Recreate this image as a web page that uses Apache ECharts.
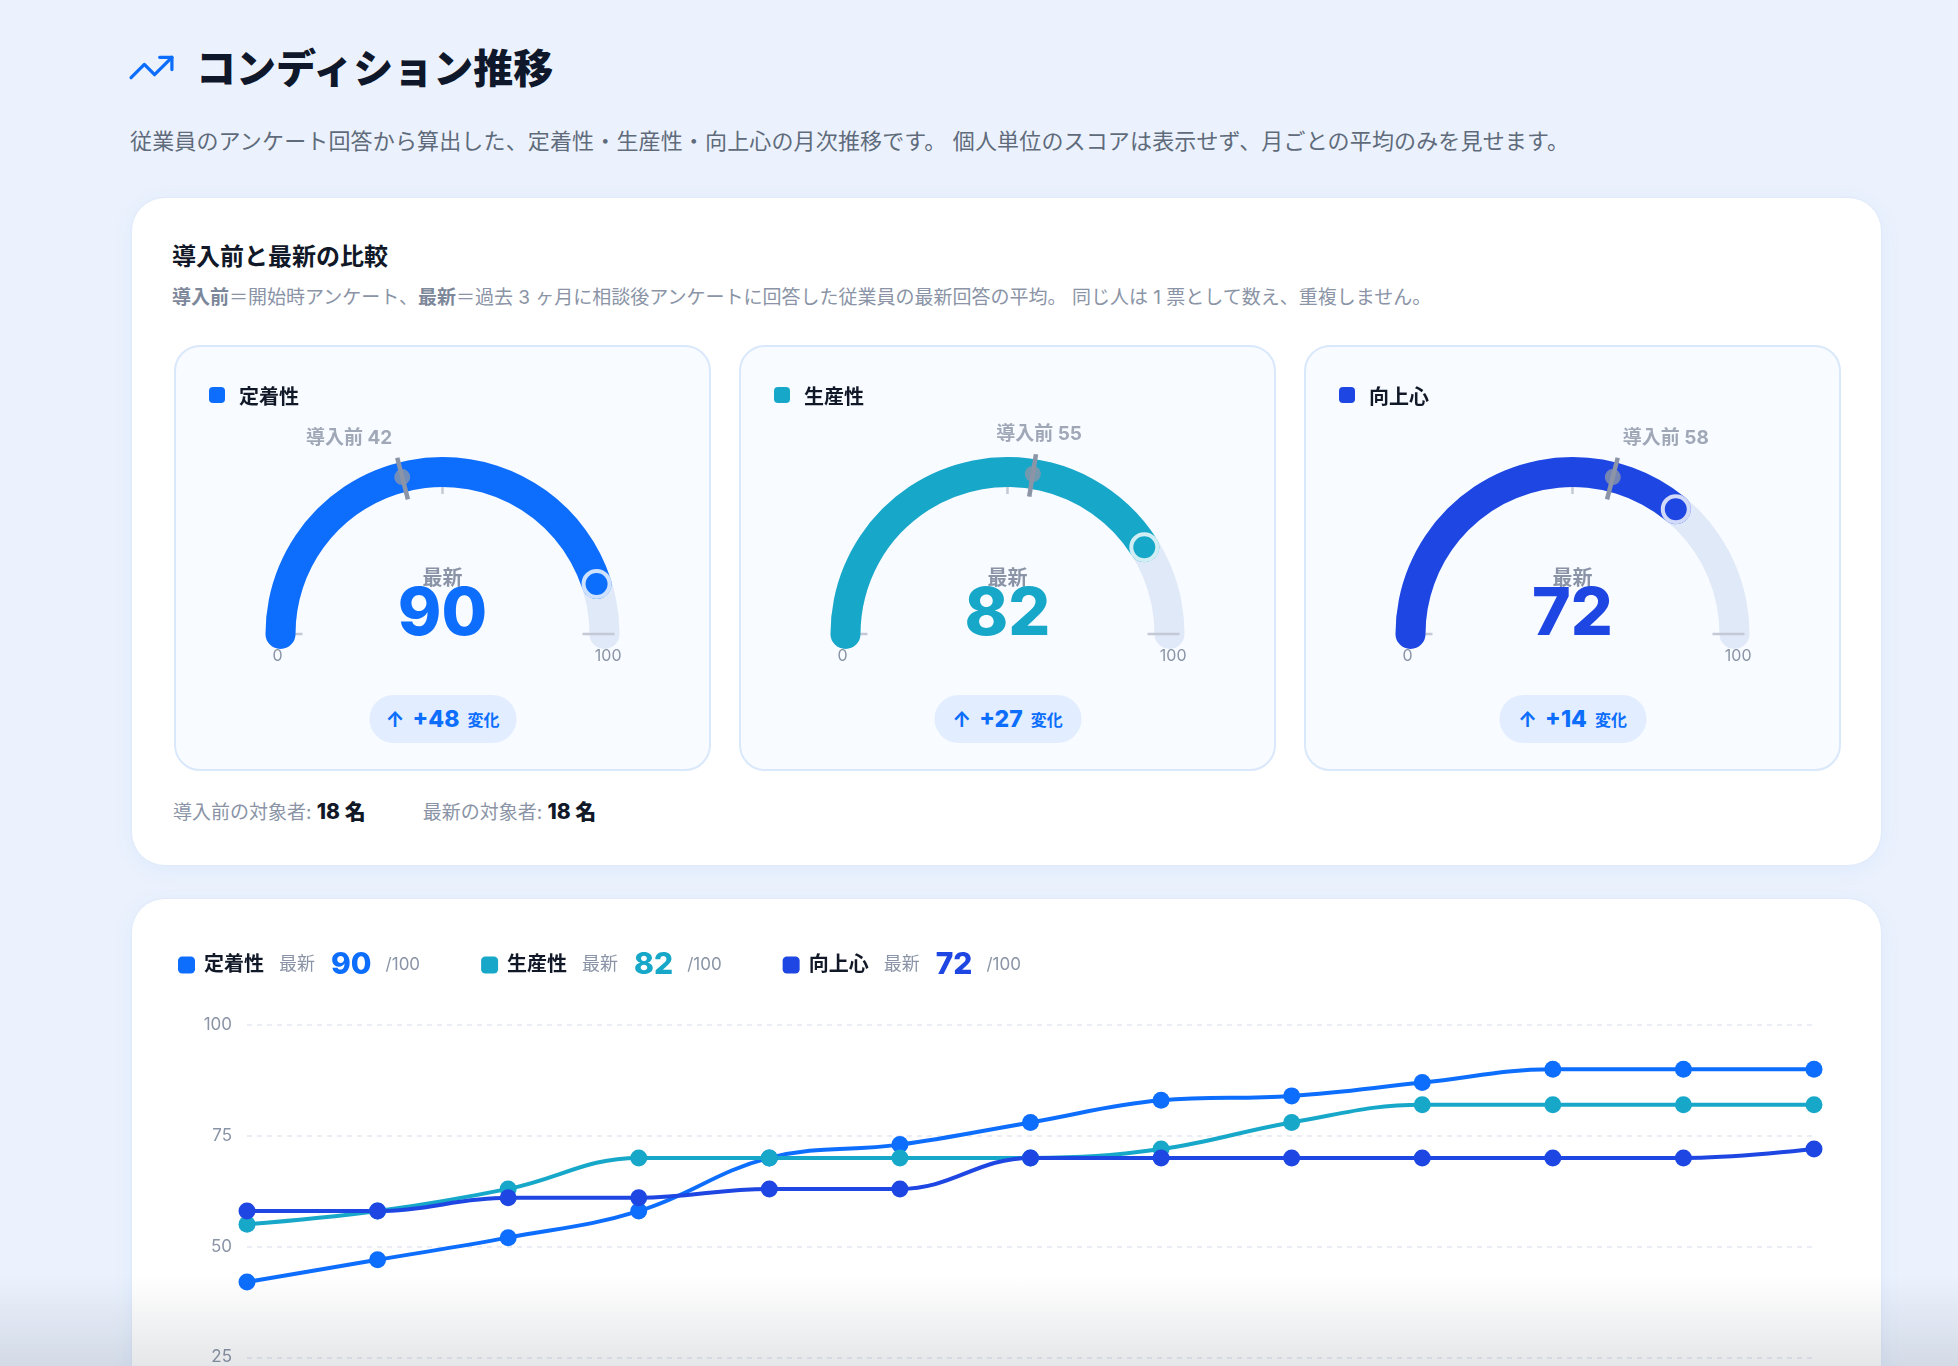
<!DOCTYPE html>
<html lang="ja">
<head>
<meta charset="utf-8">
<title>コンディション推移</title>
<script src="https://cdn.jsdelivr.net/npm/echarts@6/dist/echarts.min.js"></script>
<style>
  html, body { margin: 0; padding: 0; overflow: hidden; }
  body { width: 1958px; height: 1366px; background: #ebf2fd; font-family: Inter, 'Noto Sans CJK JP', sans-serif; position: relative; }
  .abs { position: absolute; }
  #icon { left: 127px; top: 43px; width: 49px; height: 49px; }
  #title { left: 196px; top: 44px; line-height: 50px; font-size: 40px; font-weight: 900; color: #0f172a; white-space: nowrap; }
  #subtitle { left: 130px; top: 126px; line-height: 30px; font-size: 22px; letter-spacing: 0.15px; color: #5f6b7b; white-space: nowrap; }
  .card { position: absolute; left: 131px; width: 1751px; box-sizing: border-box; background: #fff; border: 1px solid #e0eafa; border-radius: 34px; box-shadow: 0 4px 22px rgba(37, 99, 235, 0.06); }
  #card1 { top: 197px; height: 669px; }
  #card2 { top: 898px; height: 780px; }
  #cmpTitle { left: 172px; top: 241px; line-height: 32px; font-size: 24px; font-weight: 700; color: #111827; white-space: nowrap; }
  #cmpDesc { left: 172px; top: 285px; line-height: 26px; font-size: 19px; color: #8a94a6; white-space: nowrap; }
  #cmpDesc b { font-weight: 700; color: #7d879a; }
  .gcard { position: absolute; top: 345px; width: 537px; height: 426px; box-sizing: border-box; border: 2px solid #dae8fb; border-radius: 26px; background: #f8fbff; }
  .gchart { position: absolute; left: 0; top: 0; width: 533px; height: 422px; }
  .ghead { position: absolute; left: 33px; top: 33px; height: 30px; display: flex; align-items: center; font-size: 20px; font-weight: 700; color: #111827; white-space: nowrap; }
  .ghead .sq { width: 16px; height: 16px; border-radius: 4px; margin-right: 14px; display: inline-block; }
  .pill { position: absolute; left: 50%; transform: translateX(-50%); top: 348px; width: 147px; height: 48px; border-radius: 24px; background: #e2eeff; color: #0d6efd; display: flex; align-items: center; justify-content: center; gap: 8px; white-space: nowrap; }
  .pill .ar { font-size: 21px; font-weight: 700; }
  .pill .dv { font-size: 23px; font-weight: 800; }
  .pill .lb { font-size: 16px; font-weight: 700; }
  #counts { left: 173px; top: 797px; line-height: 30px; font-size: 19px; color: #8a94a6; white-space: nowrap; }
  #counts b { color: #111827; font-weight: 800; font-size: 21px; }
  #counts .sep { display: inline-block; width: 57px; }
  #lineChart { position: absolute; left: 0; top: 0; width: 1749px; height: 778px; }
  #fade { position: absolute; left: 0; right: 0; bottom: 0; height: 90px; background: linear-gradient(to bottom, rgba(40, 50, 70, 0), rgba(40, 50, 70, 0.12)); pointer-events: none; z-index: 10; }
</style>
</head>
<body>
<svg id="icon" class="abs" viewBox="0 0 24 24" fill="none" stroke="#0d6efd" stroke-width="1.6" stroke-linecap="round" stroke-linejoin="round">
  <polyline points="22 7 13.5 15.5 8.5 10.5 2 17"></polyline>
  <polyline points="16 7 22 7 22 13"></polyline>
</svg>
<div id="title" class="abs">コンディション推移</div>
<div id="subtitle" class="abs">従業員のアンケート回答から算出した、定着性・生産性・向上心の月次推移です。 個人単位のスコアは表示せず、月ごとの平均のみを見せます。</div>

<div id="card1" class="card"></div>
<div id="cmpTitle" class="abs">導入前と最新の比較</div>
<div id="cmpDesc" class="abs"><b>導入前</b>＝開始時アンケート、<b>最新</b>＝過去 3 ヶ月に相談後アンケートに回答した従業員の最新回答の平均。 同じ人は 1 票として数え、重複しません。</div>
<div id="gaugeCards"></div>
<div id="counts" class="abs"></div>

<div id="card2" class="card"><div id="lineChart"></div></div>
<div id="fade"></div>

<script>
// ---- data ----
const metricNames = ['定着性', '生産性', '向上心'];
const preScores = [42, 55, 58];
const latestScores = [90, 82, 72];
const preCount = 18;
const latestCount = 18;
const months = ['10月', '11月', '12月', '1月', '2月', '3月', '4月', '5月', '6月', '7月', '8月', '9月', '10月'];
const retentionTrend = [42, 47, 52, 58, 70, 73, 78, 83, 84, 87, 90, 90, 90];
const productivityTrend = [55, 58, 63, 70, 70, 70, 70, 72, 78, 82, 82, 82, 82];
const motivationTrend = [58, 58, 61, 61, 63, 63, 70, 70, 70, 70, 70, 70, 72];
const yTicks = [0, 25, 50, 75, 100];

// ---- styles / geometry ----
const COLORS = ['#0d6efd', '#17a8c9', '#1e46e2'];
const FONT = "Inter, 'Noto Sans CJK JP', sans-serif";
const GRAY = '#8a94a6';
const MARK_GRAY = '#8b95a7';
const TRACK = '#e0e9f8';
const GCX = '50%', GCY = 287, GR = 177, GW = 30;
// polar helper radii (px, polar radius axis is 1 unit = 1 px)
const POLAR_R = 220;
const R_MID = 162, R_TICK_IN = 139, R_TICK_OUT = 182, R_LABEL = 202;

const trendSeries = [retentionTrend, productivityTrend, motivationTrend];

// ---- gauge cards ----
const cardsHost = document.getElementById('gaugeCards');
const cardLefts = [174, 739, 1304];
metricNames.forEach((name, i) => {
  const card = document.createElement('div');
  card.className = 'gcard';
  card.style.left = cardLefts[i] + 'px';
  const chartDiv = document.createElement('div');
  chartDiv.className = 'gchart';
  card.appendChild(chartDiv);
  const head = document.createElement('div');
  head.className = 'ghead';
  head.innerHTML = '<span class="sq" style="background:' + COLORS[i] + '"></span><span>' + name + '</span>';
  card.appendChild(head);
  const diff = latestScores[i] - preScores[i];
  const pill = document.createElement('div');
  pill.className = 'pill';
  pill.innerHTML = '<span class="ar">' + (diff >= 0 ? '↑' : '↓') + '</span><span class="dv">' + (diff >= 0 ? '+' : '') + diff + '</span><span class="lb">変化</span>';
  card.appendChild(pill);
  cardsHost.appendChild(card);

  const base = { type: 'gauge', center: [GCX, GCY], radius: GR, startAngle: 180, endAngle: 0, min: 0, max: 100,
    axisTick: { show: false }, anchor: { show: false }, pointer: { show: false }, silent: true };
  const pre = preScores[i];
  const latest = latestScores[i];
  const preAlign = Math.abs(pre - 50) <= 6 ? 'center' : (pre < 50 ? 'right' : 'left');
  const chart = echarts.init(chartDiv, null, { renderer: 'canvas' });
  chart.setOption({
    animation: false,
    polar: { center: [GCX, GCY], radius: POLAR_R },
    angleAxis: { type: 'value', min: 0, max: 200, startAngle: 180, clockwise: true, show: false },
    radiusAxis: { type: 'value', min: 0, max: POLAR_R, show: false },
    series: [
      Object.assign({}, base, {
        axisLine: { roundCap: true, lineStyle: { width: GW, color: [[1, TRACK]] } },
        progress: { show: true, width: GW, roundCap: true, itemStyle: { color: COLORS[i] } },
        splitLine: { show: false }, axisLabel: { show: false },
        title: { show: true, offsetCenter: [0, -55], fontSize: 20, fontWeight: 'bold', color: GRAY, fontFamily: FONT },
        detail: { show: true, offsetCenter: [0, -19], fontSize: 66, fontWeight: 800, color: COLORS[i], fontFamily: FONT, valueAnimation: false, formatter: '{value}' },
        data: [{ value: latest, name: '最新' }]
      }),
      Object.assign({}, base, {
        splitNumber: 2,
        axisLine: { show: true, lineStyle: { width: GW, color: [[1, 'rgba(0,0,0,0)']] } },
        progress: { show: false },
        splitLine: { show: true, length: 32, distance: -25, lineStyle: { color: '#c3cad6', width: 2.5 } },
        axisLabel: { show: true, distance: -9, color: GRAY, fontSize: 16, lineHeight: 44, fontFamily: FONT,
          formatter: v => v === 0 ? '\n\u00a0\u00a00' : (v === 100 ? '\n100' : '') },
        title: { show: false }, detail: { show: false },
        data: [{ value: 0 }]
      }),
      // pre-value marker: radial tick across the band
      {
        type: 'line', coordinateSystem: 'polar', silent: true, symbol: 'none',
        lineStyle: { color: MARK_GRAY, width: 4.5, cap: 'butt' },
        data: [[R_TICK_IN, pre], [R_TICK_OUT, pre]]
      },
      // pre-value dot
      {
        type: 'scatter', coordinateSystem: 'polar', silent: true,
        symbol: 'circle', symbolSize: 16, itemStyle: { color: MARK_GRAY },
        data: [[R_MID, pre]]
      },
      // pre-value label
      {
        type: 'scatter', coordinateSystem: 'polar', silent: true,
        symbol: 'circle', symbolSize: 2, itemStyle: { color: 'rgba(0,0,0,0)' },
        label: { show: true, position: 'inside', align: preAlign, verticalAlign: 'middle',
          formatter: '導入前 ' + pre, fontSize: 19, fontWeight: 'bold', color: GRAY, fontFamily: FONT },
        data: [[R_LABEL, pre]]
      },
      // latest-value end dot
      {
        type: 'scatter', coordinateSystem: 'polar', silent: true,
        symbol: 'circle', symbolSize: 26,
        itemStyle: { color: COLORS[i], borderColor: '#ffffff', borderWidth: 4 },
        data: [[R_MID, latest]]
      }
    ]
  });
});

document.getElementById('counts').innerHTML =
  '導入前の対象者: <b>' + preCount + ' 名</b><span class="sep"></span>最新の対象者: <b>' + latestCount + ' 名</b>';

// ---- line chart ----
const lineChart = echarts.init(document.getElementById('lineChart'), null, { renderer: 'canvas' });
const rich = {
  n: { fontSize: 20, fontWeight: 'bold', color: '#111827', padding: [0, 15, 0, 4], fontFamily: FONT },
  l: { fontSize: 18, color: GRAY, padding: [0, 16, 0, 0], fontFamily: FONT },
  u: { fontSize: 17, color: GRAY, fontFamily: FONT }
};
COLORS.forEach((c, i) => { rich['v' + i] = { fontSize: 30, fontWeight: 800, color: c, padding: [0, 14, 0, 0], fontFamily: FONT }; });
lineChart.setOption({
  animation: false,
  legend: {
    left: 41, top: 46, icon: 'roundRect', itemWidth: 17, itemHeight: 17, itemGap: 61,
    data: metricNames,
    formatter: name => {
      const i = metricNames.indexOf(name);
      return '{n|' + name + '}{l|最新}{v' + i + '|' + latestScores[i] + '}{u|/100}';
    },
    textStyle: { rich: rich }
  },
  grid: { left: 115, right: 67, top: 126, height: 443, containLabel: false },
  xAxis: {
    type: 'category', data: months, boundaryGap: false,
    axisLine: { show: false }, axisTick: { show: false },
    axisLabel: { color: GRAY, fontSize: 16, fontFamily: FONT, margin: 16 }
  },
  yAxis: {
    type: 'value', min: yTicks[0], max: yTicks[yTicks.length - 1], interval: yTicks[1] - yTicks[0],
    axisLine: { show: false }, axisTick: { show: false },
    axisLabel: { color: GRAY, fontSize: 17, fontFamily: FONT, margin: 15 },
    splitLine: { show: true, lineStyle: { color: '#e4e9f1', width: 1.5, type: [5, 5] } }
  },
  series: metricNames.map((name, i) => ({
    name: name, type: 'line', data: trendSeries[i], smooth: 0.4,
    symbol: 'circle', symbolSize: 17,
    lineStyle: { width: 4, color: COLORS[i] },
    itemStyle: { color: COLORS[i] },
    emphasis: { disabled: true }
  }))
});
</script>
</body>
</html>
